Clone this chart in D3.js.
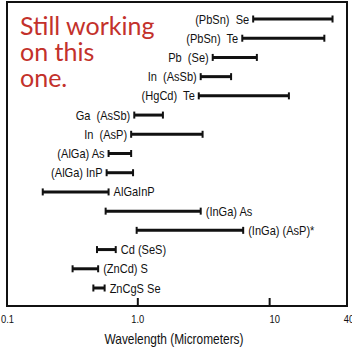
<html lang="en">
<head>
<meta charset="UTF-8">
<title>Semiconductor wavelength ranges</title>
<script src="https://d3js.org/d3.v7.min.js"></script>
<style>
  body { margin: 0; background: #fff; }
  text { white-space: pre; }
</style>
</head>
<body>
<svg width="352" height="356"></svg>
<script>
    // material systems, top to bottom
    const materials = ["(PbSn)  Se", "(PbSn)  Te", "Pb  (Se)", "In  (AsSb)", "(HgCd)  Te",
        "Ga  (AsSb)", "In  (AsP)", "(AlGa) As", "(AlGa) InP", "AlGaInP",
        "(InGa) As", "(InGa) (AsP)*", "Cd (SeS)", "(ZnCd) S", "ZnCgS Se"];
    // wavelength range, micrometers
    const lowUm  = [7.5, 6.2, 3.7, 3.0, 2.9, 0.94, 0.89, 0.60, 0.58, 0.19, 0.57, 0.98, 0.49, 0.32, 0.46];
    const highUm = [30, 26, 8.0, 5.1, 14, 1.55, 3.1, 0.89, 0.92, 0.60, 3.0, 6.3, 0.68, 0.50, 0.56];
    const tickVals = [0.1, 1, 10, 40];
    const tickLabels = ["0.1", "1.0", "10", "40"];
    const note = ["Still working", "on this", "one."];

    const svg = d3.select("svg");
    const labelFont = "'Liberation Sans', Arial, sans-serif";
    const squeeze = 0.85; // no narrow font here, so squash the text

    const x = d3.scaleLog().domain([0.1, 40]).range([6, 349]);
    const y = d3.scalePoint().domain(materials).range([19, 288]);

    const rows = materials.map((m, i) => ({name: m, lo: lowUm[i], hi: highUm[i]}));
    // these ones have the name written after the bar
    const nameAfter = new Set(["AlGaInP", "(InGa) As", "(InGa) (AsP)*", "Cd (SeS)", "(ZnCd) S", "ZnCgS Se"]);

    function narrowText(sel, fx, fy) {
        sel.attr("transform", (d, i) => `translate(${fx(d, i)},${fy(d, i)}) scale(${squeeze},1)`);
    }

    // frame
    svg.append("rect")
        .attr("x", 7).attr("y", 2)
        .attr("width", 340).attr("height", 304)
        .attr("fill", "none").attr("stroke", "#111").attr("stroke-width", 2);

    // inner ticks on bottom edge
    svg.selectAll(".tick")
        .data([1, 10])
        .enter().append("line")
        .attr("x1", d => x(d)).attr("x2", d => x(d))
        .attr("y1", 306).attr("y2", 298)
        .attr("stroke", "#111").attr("stroke-width", 2);

    svg.selectAll(".ticklab")
        .data(tickVals)
        .enter().append("text")
        .attr("text-anchor", (d, i) => i === 0 ? "start" : "middle")
        .attr("font-family", labelFont)
        .attr("font-size", 11)
        .attr("fill", "#111")
        .text((d, i) => tickLabels[i])
        .call(narrowText, (d, i) => i === 0 ? 1 : x(d) + (i === 2 ? 5 : 0), () => 323);

    svg.append("text")
        .datum(0)
        .attr("text-anchor", "middle")
        .attr("font-family", labelFont)
        .attr("font-size", 14)
        .attr("fill", "#111")
        .text("Wavelength (Micrometers)")
        .call(narrowText, () => 174, () => 344);

    // bars
    const g = svg.append("g");
    g.selectAll(".bar")
        .data(rows)
        .enter().append("line")
        .attr("x1", d => x(d.lo)).attr("x2", d => x(d.hi))
        .attr("y1", d => y(d.name)).attr("y2", d => y(d.name))
        .attr("stroke", "#111").attr("stroke-width", 3);

    const caps = rows.flatMap(d => [{v: d.lo, name: d.name}, {v: d.hi, name: d.name}]);
    g.selectAll(".cap")
        .data(caps)
        .enter().append("line")
        .attr("x1", d => x(d.v)).attr("x2", d => x(d.v))
        .attr("y1", d => y(d.name) - 3.5).attr("y2", d => y(d.name) + 3.5)
        .attr("stroke", "#111").attr("stroke-width", 2);

    g.selectAll(".name")
        .data(rows)
        .enter().append("text")
        .attr("text-anchor", d => nameAfter.has(d.name) ? "start" : "end")
        .attr("font-family", labelFont)
        .attr("font-size", 13)
        .attr("fill", "#111")
        .text(d => d.name)
        .call(narrowText, d => nameAfter.has(d.name) ? x(d.hi) + 5 : x(d.lo) - 4, d => y(d.name) + 4.5);

    // red note, one text block
    svg.append("text")
        .attr("font-family", "Lato, 'Open Sans', sans-serif")
        .attr("font-size", 25)
        .attr("fill", "#c3312b")
        .selectAll("tspan")
        .data(note)
        .enter().append("tspan")
        .attr("x", 20)
        .attr("y", (d, i) => 35 + i * 26)
        .text(d => d);
</script>
</body>
</html>
